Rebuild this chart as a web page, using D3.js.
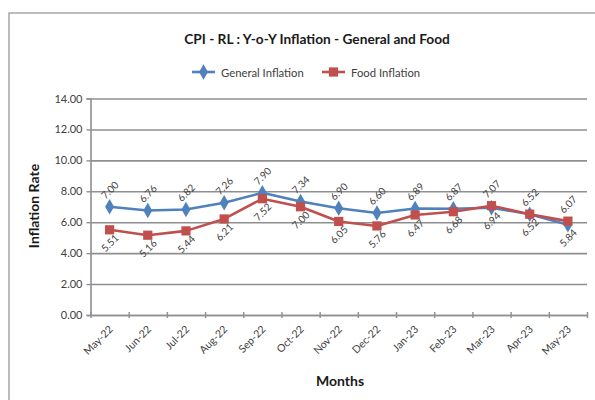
<!DOCTYPE html>
<html>
<head>
<meta charset="utf-8">
<script src="https://cdn.jsdelivr.net/npm/d3@7"></script>
<style>
  html, body { margin: 0; padding: 0; background: #fff; }
  svg { display: block; font-family: Lato, "Open Sans", sans-serif; }
</style>
</head>
<body>
<svg id="chart" width="595" height="400"></svg>
<script>
// chart values
const months = ["May-22", "Jun-22", "Jul-22", "Aug-22", "Sep-22", "Oct-22", "Nov-22",
                "Dec-22", "Jan-23", "Feb-23", "Mar-23", "Apr-23", "May-23"];
const generalInflation = [7.00, 6.76, 6.82, 7.26, 7.90, 7.34, 6.90, 6.60, 6.89, 6.87, 6.94, 6.52, 5.84];
const foodInflation    = [5.51, 5.16, 5.44, 6.21, 7.52, 7.00, 6.05, 5.76, 6.47, 6.68, 7.07, 6.52, 6.07];
const yTickValues = [0, 2, 4, 6, 8, 10, 12, 14];

const titleText = "CPI - RL : Y-o-Y Inflation - General and Food";
const seriesNames = ["General Inflation", "Food Inflation"];

let svg = d3.select("#chart");

// frame
svg.append("rect")
    .attr("x", 9).attr("y", 13)
    .attr("width", 620).attr("height", 420)
    .attr("fill", "#fff")
    .attr("stroke", "#a6a6a6").attr("stroke-width", 1.5);

let plot = { left: 90.5, right: 587, top: 98.5, bottom: 315 };

let x = d3.scaleBand().domain(months).range([plot.left, plot.right]);
let xEdge = d3.scaleLinear().domain([0, months.length]).range([plot.left, plot.right]);
let y = d3.scaleLinear().domain([0, 14]).range([plot.bottom, plot.top]);

// gridlines
svg.append("g")
    .attr("transform", "translate(" + plot.left + ",0)")
    .call(d3.axisLeft(y).tickValues(yTickValues).tickSize(-(plot.right - plot.left)).tickFormat(""))
    .call(g => g.select(".domain").remove())
    .selectAll("line").attr("stroke", "#8f8f8f").attr("stroke-width", 1.6);

// y axis
let yAxis = svg.append("g")
    .attr("transform", "translate(" + plot.left + ",0)")
    .call(d3.axisLeft(y).tickValues(yTickValues).tickSize(4).tickPadding(4)
          .tickFormat(d3.format(".2f")));
yAxis.select(".domain").attr("stroke", "#8f8f8f").attr("stroke-width", 1.6);
yAxis.selectAll("line").attr("stroke", "#8f8f8f").attr("stroke-width", 1.4);
yAxis.selectAll("text")
    .attr("fill", "#404040").attr("font-size", 11)
    .attr("font-family", "Lato, sans-serif");

// x axis: tick marks between categories
let xTicks = svg.append("g")
    .attr("transform", "translate(0," + plot.bottom + ")")
    .call(d3.axisBottom(xEdge).tickValues(d3.range(months.length + 1))
          .tickSizeInner(4).tickSizeOuter(0).tickFormat(""));
xTicks.select(".domain").attr("stroke", "#8f8f8f").attr("stroke-width", 1.6);
xTicks.selectAll(".tick line")
    .attr("y1", -3).attr("y2", 3)
    .attr("stroke", "#8f8f8f").attr("stroke-width", 1.4);

// x axis: category labels
let xLabels = svg.append("g")
    .attr("transform", "translate(0," + plot.bottom + ")")
    .call(d3.axisBottom(x).tickSize(0).tickPadding(0));
xLabels.select(".domain").remove();
xLabels.selectAll("text")
    .attr("fill", "#404040").attr("font-size", 10.5)
    .attr("font-family", "Lato, sans-serif")
    .attr("text-anchor", "end")
    .attr("dy", 0)
    .attr("transform", "translate(4,15) rotate(-45)");

// series
let cx = d => x(d.month) + x.bandwidth() / 2;
let series = [
    { name: seriesNames[0], values: generalInflation, color: "#4f81bd", symbol: d3.symbolDiamond, size: 70 },
    { name: seriesNames[1], values: foodInflation, color: "#c0504d", symbol: d3.symbolSquare, size: 85 }
];
series.forEach(s => { s.points = months.map((m, i) => ({ month: m, value: s.values[i], i: i })); });

let line = d3.line().x(cx).y(d => y(d.value));

series.forEach(s => {
    svg.append("path")
        .datum(s.points)
        .attr("fill", "none")
        .attr("stroke", s.color)
        .attr("stroke-width", 2.6)
        .attr("stroke-linejoin", "round")
        .attr("d", line);
});
series.forEach(s => {
    svg.append("g").selectAll("path")
        .data(s.points)
        .join("path")
        .attr("transform", d => "translate(" + cx(d) + "," + y(d.value) + ")")
        .attr("d", d3.symbol().type(s.symbol).size(s.size))
        .attr("fill", s.color);
});

// data labels: higher value above the point, lower below
series.forEach((s, si) => {
    let other = series[1 - si];
    svg.append("g").selectAll("text")
        .data(s.points)
        .join("text")
        .attr("transform", d => {
            let o = other.values[d.i];
            let above = d.value > o || (d.value === o && si === 0);
            let dy = above ? -16 : 14;
            return "translate(" + (cx(d) + 1) + "," + (y(d.value) + dy) + ") rotate(-45)";
        })
        .attr("text-anchor", "middle")
        .attr("dominant-baseline", "middle")
        .attr("font-size", 10)
        .attr("fill", "#404040")
        .text(d => d.value.toFixed(2));
});

// title
svg.append("text")
    .attr("x", 317).attr("y", 44)
    .attr("text-anchor", "middle")
    .attr("font-size", 13.7)
    .attr("font-weight", "bold")
    .attr("fill", "#1a1a1a")
    .text(titleText);

// legend
let legendX = [192, 322];
let legend = svg.append("g").selectAll("g")
    .data(series)
    .join("g")
    .attr("transform", (d, i) => "translate(" + legendX[i] + ",72)");
legend.append("line")
    .attr("x1", 0).attr("x2", 23)
    .attr("stroke", d => d.color).attr("stroke-width", 2.6);
legend.append("path")
    .attr("transform", "translate(11.5,0)")
    .attr("d", d => d3.symbol().type(d.symbol).size(d.size)())
    .attr("fill", d => d.color);
legend.append("text")
    .attr("x", 29).attr("y", 0)
    .attr("dominant-baseline", "central")
    .attr("font-size", 11.3)
    .attr("fill", "#404040")
    .text(d => d.name);

// axis titles
svg.append("text")
    .attr("x", 340).attr("y", 386)
    .attr("text-anchor", "middle")
    .attr("font-size", 14)
    .attr("font-weight", "bold")
    .attr("fill", "#1a1a1a")
    .text("Months");

svg.append("text")
    .attr("transform", "translate(39,206) rotate(-90)")
    .attr("text-anchor", "middle")
    .attr("font-size", 14)
    .attr("font-weight", "bold")
    .attr("fill", "#1a1a1a")
    .text("Inflation Rate");
</script>
</body>
</html>
